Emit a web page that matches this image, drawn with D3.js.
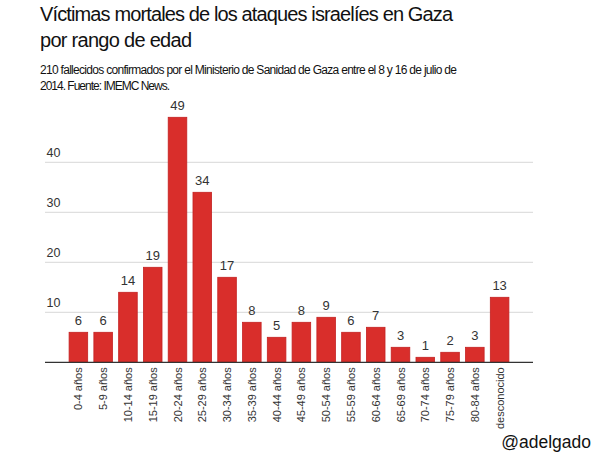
<!DOCTYPE html>
<html>
<head>
<meta charset="utf-8">
<script src="https://cdn.jsdelivr.net/npm/d3@7"></script>
<style>
  body { margin: 0; background: #fff; }
  text { font-family: "Liberation Sans", Arial, Helvetica, sans-serif; }
</style>
</head>
<body>
<svg id="chart" width="599" height="459"></svg>
<script>
const categories = ["0-4 años", "5-9 años", "10-14 años", "15-19 años", "20-24 años",
    "25-29 años", "30-34 años", "35-39 años", "40-44 años", "45-49 años", "50-54 años",
    "55-59 años", "60-64 años", "65-69 años", "70-74 años", "75-79 años", "80-84 años",
    "desconocido"];
const deaths = [6, 6, 14, 19, 49, 34, 17, 8, 5, 8, 9, 6, 7, 3, 1, 2, 3, 13];
const yTicks = [10, 20, 30, 40];
const titleLines = ["Víctimas mortales de los ataques israelíes en Gaza", "por rango de edad"];
const subtitleLines = ["210 fallecidos confirmados por el Ministerio de Sanidad de Gaza entre el 8 y 16 de julio de",
    "2014. Fuente: IMEMC News."];

const svg = d3.select("#chart");

const axisLeft = 45, axisRight = 533, baseline = 362.3;

const x = d3.scaleBand()
    .domain(categories)
    .range([66, 512])
    .paddingInner(0.25)
    .paddingOuter(0.125);

const y = d3.scaleLinear()
    .domain([0, 10])
    .range([baseline, baseline - 50]);

// titles (squeezed a little to match the narrow original face)
const titleWidths = [413, 152];
svg.append("g").selectAll("text")
    .data(titleLines)
    .join("text")
    .attr("x", 40)
    .attr("y", (d, i) => 20.5 + i * 26)
    .attr("font-size", 20)
    .attr("fill", "#111")
    .attr("textLength", (d, i) => titleWidths[i])
    .attr("lengthAdjust", "spacing")
    .text(d => d);

const subWidths = [417, 130];
svg.append("g").selectAll("text")
    .data(subtitleLines)
    .join("text")
    .attr("x", 40)
    .attr("y", (d, i) => 74 + i * 15.5)
    .attr("font-size", 12)
    .attr("fill", "#111")
    .attr("textLength", (d, i) => subWidths[i])
    .attr("lengthAdjust", "spacing")
    .text(d => d);

// gridlines + tick labels
const grid = svg.append("g");
grid.selectAll("line")
    .data(yTicks)
    .join("line")
    .attr("x1", axisLeft)
    .attr("x2", axisRight)
    .attr("y1", d => y(d))
    .attr("y2", d => y(d))
    .attr("stroke", "#d8d8d8")
    .attr("stroke-width", 1);

grid.selectAll("text")
    .data(yTicks)
    .join("text")
    .attr("x", 46.5)
    .attr("y", d => y(d) - 5.5)
    .attr("font-size", 12.5)
    .attr("fill", "#333")
    .text(d => d);

// bars
svg.append("g").selectAll("rect")
    .data(deaths)
    .join("rect")
    .attr("x", (d, i) => x(categories[i]))
    .attr("y", d => y(d))
    .attr("width", x.bandwidth())
    .attr("height", d => baseline - y(d))
    .attr("fill", "#d92e2b")
    .attr("stroke", "#c42222")
    .attr("stroke-width", 0.8);

// value labels
svg.append("g").selectAll("text")
    .data(deaths)
    .join("text")
    .attr("x", (d, i) => x(categories[i]) + x.bandwidth() / 2)
    .attr("y", d => y(d) - 7)
    .attr("text-anchor", "middle")
    .attr("font-size", 13)
    .attr("fill", "#333")
    .text(d => d);

// baseline axis
svg.append("line")
    .attr("x1", axisLeft)
    .attr("x2", axisRight)
    .attr("y1", baseline)
    .attr("y2", baseline)
    .attr("stroke", "#333")
    .attr("stroke-width", 1.2);

// category labels, rotated
svg.append("g").selectAll("text")
    .data(categories)
    .join("text")
    .attr("transform", d => `translate(${x(d) + x.bandwidth() / 2 + 4},${baseline + 5}) rotate(-90)`)
    .attr("text-anchor", "end")
    .attr("font-size", 11)
    .attr("fill", "#333")
    .text(d => d);

svg.append("text")
    .attr("x", 591)
    .attr("y", 448)
    .attr("text-anchor", "end")
    .attr("font-size", 17.5)
    .attr("fill", "#111")
    .text("@adelgado");
</script>
</body>
</html>
